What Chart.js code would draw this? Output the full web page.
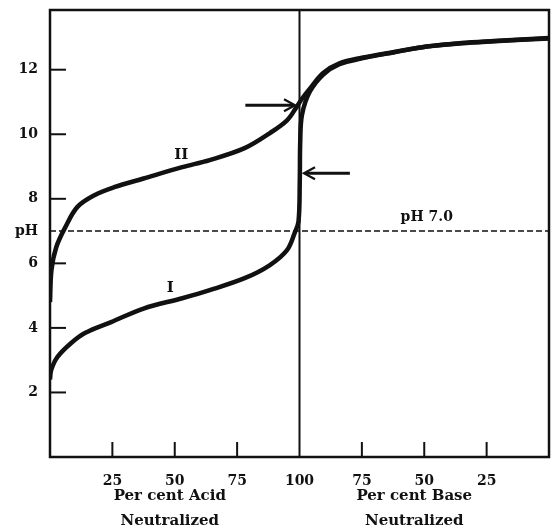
<!DOCTYPE html>
<html>
<head>
<meta charset="utf-8">
<script src="https://cdn.jsdelivr.net/npm/chart.js@4"></script>
<style>
  html, body { margin: 0; padding: 0; background: #fff; }
  #wrap { width: 551px; height: 530px; }
</style>
</head>
<body>
<div id="wrap"><canvas id="titration"></canvas></div>
<script>
// x runs 0..200: 0-100 = per cent acid neutralized, 100-200 = per cent base (read back down 100 -> 0)
const curve1X = [0, 0.5, 3, 8.5, 14, 24.5, 37.5, 53, 64, 78, 88, 95, 98, 99.6, 100.1, 100.3, 101, 104, 109.5, 116, 125, 138, 151, 165, 178, 200];
const curve1PH = [2.4, 2.7, 3.1, 3.53, 3.84, 4.18, 4.6, 4.92, 5.17, 5.54, 5.94, 6.41, 6.93, 7.3, 8.5, 9.8, 10.6, 11.3, 11.85, 12.17, 12.35, 12.54, 12.72, 12.82, 12.88, 12.97];

const curve2X = [0, 0.6, 2.5, 6, 11, 18, 25.7, 37.5, 53, 64, 78, 88, 95, 98.8, 101, 104, 109.5, 116, 125, 138, 151, 165, 178, 200];
const curve2PH = [4.8, 5.8, 6.5, 7.1, 7.75, 8.12, 8.36, 8.63, 8.98, 9.2, 9.57, 10.03, 10.43, 10.84, 11.1, 11.4, 11.9, 12.2, 12.37, 12.55, 12.72, 12.83, 12.89, 12.98];

const phTicks = [2, 4, 6, 7, 8, 10, 12];
const xTicks = [25, 50, 75, 100, 125, 150, 175];

const INK = '#111';
const FONT = '"DejaVu Serif", "Liberation Serif", serif';

const toPoints = (xs, ys) => xs.map((v, i) => ({ x: v, y: ys[i] }));

// frame, inward ticks, arrows and the hand-set labels
const decorations = {
    id: 'decorations',
    afterDatasetsDraw(chart) {
        const { ctx, chartArea: a, scales: { x, y } } = chart;
        ctx.save();
        ctx.strokeStyle = INK;
        ctx.fillStyle = INK;
        ctx.lineCap = 'butt';

        // frame
        ctx.lineWidth = 2.5;
        ctx.strokeRect(a.left, a.top, a.right - a.left, a.bottom - a.top);

        // tick marks pointing into the plot
        ctx.lineWidth = 2;
        xTicks.forEach(v => {
            if (v === 100) return;
            const px = x.getPixelForValue(v);
            ctx.beginPath();
            ctx.moveTo(px, a.bottom);
            ctx.lineTo(px, a.bottom - 15);
            ctx.stroke();
        });
        phTicks.forEach(v => {
            if (v === 7) return;
            const py = y.getPixelForValue(v);
            ctx.beginPath();
            ctx.moveTo(a.left, py);
            ctx.lineTo(a.left + 16, py);
            ctx.stroke();
        });

        // arrows
        const arrow = (fromX, toX, atPH) => {
            const x0 = x.getPixelForValue(fromX);
            const x1 = x.getPixelForValue(toX);
            const py = y.getPixelForValue(atPH);
            const dir = Math.sign(x1 - x0);
            ctx.lineWidth = 3;
            ctx.beginPath();
            ctx.moveTo(x0, py);
            ctx.lineTo(x1 - dir * 2, py);
            ctx.stroke();
            ctx.lineWidth = 2.2;
            ctx.beginPath();
            ctx.moveTo(x1 - dir * 11, py - 6);
            ctx.lineTo(x1, py);
            ctx.lineTo(x1 - dir * 11, py + 6);
            ctx.stroke();
        };
        arrow(78.3, 98.2, 10.9);
        arrow(120.2, 101.8, 8.79);

        // curve labels
        ctx.font = 'bold 15px ' + FONT;
        ctx.textAlign = 'center';
        ctx.textBaseline = 'middle';
        ctx.fillText('II', x.getPixelForValue(52.6), y.getPixelForValue(9.35));
        ctx.fillText('I', x.getPixelForValue(48.2), y.getPixelForValue(5.23));
        ctx.font = 'bold 14px ' + FONT;
        ctx.fillText('pH 7.0', x.getPixelForValue(151), y.getPixelForValue(7.43));

        // axis captions
        ctx.font = 'bold 15px ' + FONT;
        const leftC = x.getPixelForValue(48);
        const rightC = x.getPixelForValue(146);
        ctx.fillText('Per cent Acid', leftC, a.bottom + 39);
        ctx.fillText('Neutralized', leftC, a.bottom + 64);
        ctx.fillText('Per cent Base', rightC, a.bottom + 39);
        ctx.fillText('Neutralized', rightC, a.bottom + 64);
        ctx.restore();
    }
};

const ctx = document.getElementById('titration').getContext('2d');

new Chart(ctx, {
    type: 'line',
    data: {
        datasets: [
            {
                // pH 7.0 reference line
                data: [{ x: 0, y: 7 }, { x: 200, y: 7 }],
                borderColor: INK,
                borderWidth: 1.5,
                borderDash: [6, 3],
                pointRadius: 0
            },
            {
                // equivalence line at 100 %
                data: [{ x: 100, y: 0 }, { x: 100, y: 13.85 }],
                borderColor: INK,
                borderWidth: 2,
                pointRadius: 0
            },
            {
                label: 'I',
                data: toPoints(curve1X, curve1PH),
                borderColor: INK,
                borderWidth: 4.5,
                pointRadius: 0,
                tension: 0.35
            },
            {
                label: 'II',
                data: toPoints(curve2X, curve2PH),
                borderColor: INK,
                borderWidth: 4.5,
                pointRadius: 0,
                tension: 0.35
            }
        ]
    },
    options: {
        responsive: true,
        maintainAspectRatio: false,
        animation: false,
        layout: { padding: { top: 10, right: 2, left: 0, bottom: 0 } },
        plugins: {
            legend: { display: false },
            tooltip: { enabled: false }
        },
        scales: {
            x: {
                type: 'linear',
                min: 0,
                max: 200,
                grid: { display: false, drawTicks: false },
                border: { display: false },
                afterBuildTicks: scale => { scale.ticks = xTicks.map(v => ({ value: v })); },
                afterFit: scale => {
                    scale.height = 73;
                    scale.paddingLeft = 0;
                    scale.paddingRight = 0;
                },
                ticks: {
                    autoSkip: false,
                    maxRotation: 0,
                    padding: 16,
                    color: INK,
                    font: { family: FONT, weight: 'bold', size: 14 },
                    callback: v => (v <= 100 ? v : 200 - v)
                }
            },
            y: {
                type: 'linear',
                min: 0,
                max: 13.85,
                grid: { display: false, drawTicks: false },
                border: { display: false },
                afterBuildTicks: scale => { scale.ticks = phTicks.map(v => ({ value: v })); },
                afterFit: scale => {
                    scale.width = 50;
                    scale.paddingTop = 0;
                    scale.paddingBottom = 0;
                },
                ticks: {
                    autoSkip: false,
                    padding: 12,
                    color: INK,
                    font: { family: FONT, weight: 'bold', size: 14 },
                    callback: v => (v === 7 ? 'pH' : v)
                }
            }
        }
    },
    plugins: [decorations]
});
</script>
</body>
</html>
